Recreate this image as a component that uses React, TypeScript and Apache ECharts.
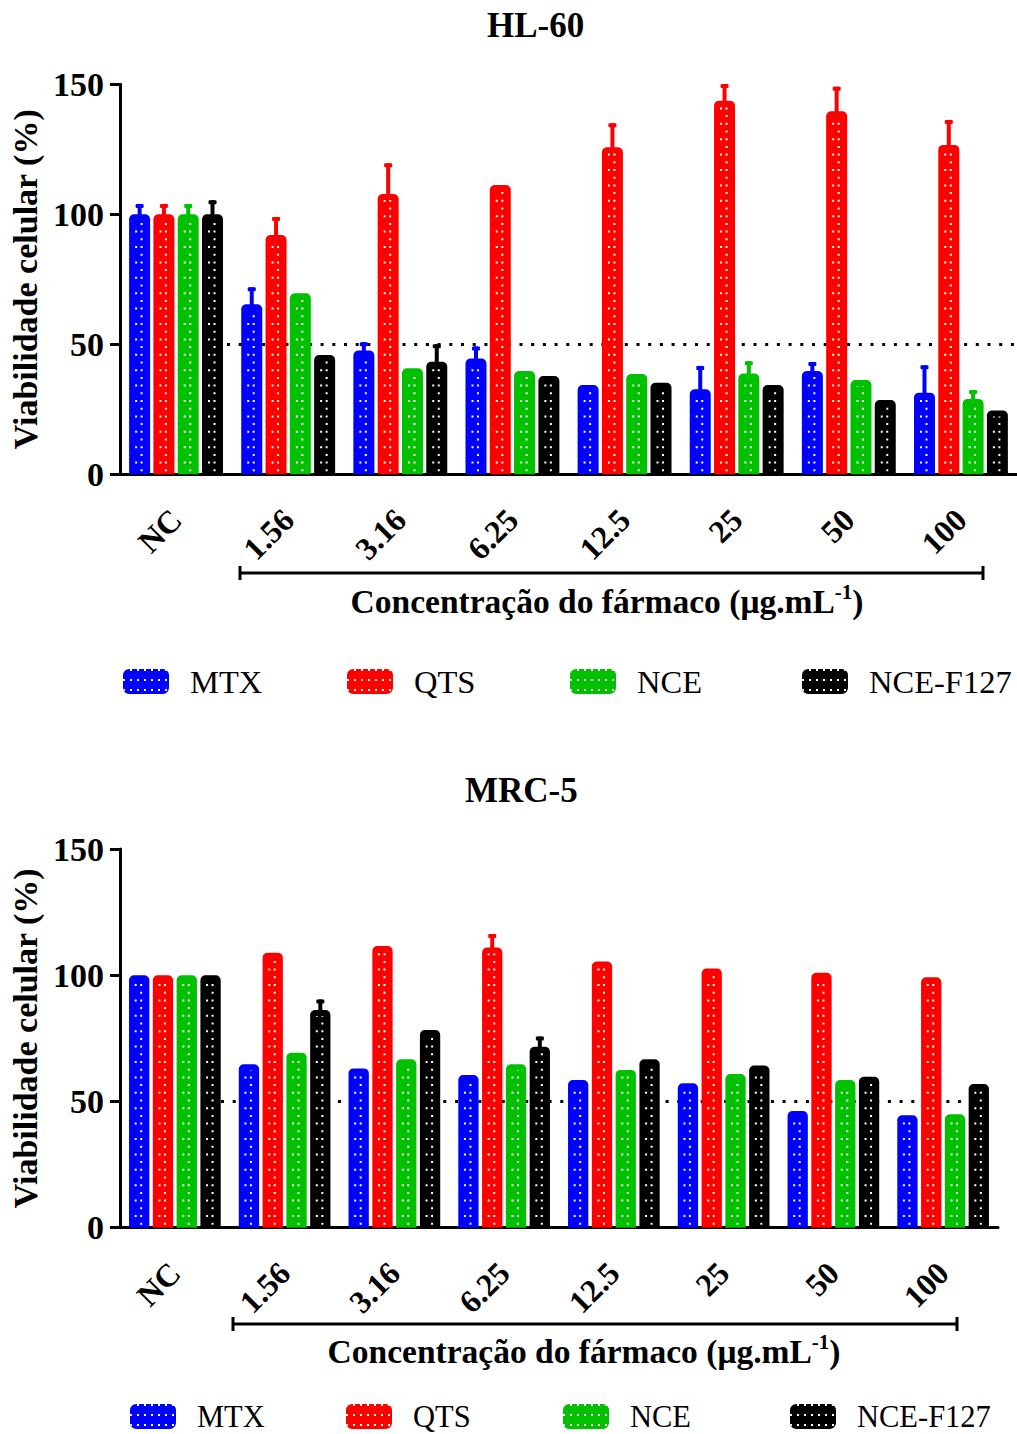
import React, { useEffect, useRef } from 'react';
import * as echarts from 'echarts';

// ---------- data ----------
const categories = ['NC', '1.56', '3.16', '6.25', '12.5', '25', '50', '100'];
const seriesNames = ['MTX', 'QTS', 'NCE', 'NCE-F127'];
const seriesColors = ['#0000ff', '#ff0000', '#00c000', '#000000'];
const yMin = 0;
const yMax = 150;
const yInterval = 50;
const thresholdValue = 50;

// HL-60 (top panel) mean viability (%)
const hlMTX = [100, 65.4, 47.6, 44.5, 34.3, 32.7, 39.7, 31.4];
const hlQTS = [100, 92.0, 107.8, 111.3, 125.8, 143.7, 139.6, 126.7];
const hlNCE = [100, 69.6, 40.8, 39.7, 38.6, 38.8, 36.3, 29.0];
const hlF127 = [100, 45.9, 43.3, 37.8, 35.2, 34.3, 28.6, 24.5];
// HL-60 upper error bar ends (null = not visible)
const hlMTXErr = [104, 71.9, 50.8, 49.2, null, 41.7, 43.2, 41.9];
const hlQTSErr = [104, 99.0, 119.6, null, 135.0, 150.1, 149.1, 136.3];
const hlNCEErr = [104, null, null, null, null, 43.5, null, 32.4];
const hlF127Err = [105.4, null, 50.0, null, null, null, null, null];

// MRC-5 (bottom panel)
const mrcMTX = [100, 64.7, 63.1, 60.5, 58.5, 57.2, 46.2, 44.5];
const mrcQTS = [100, 108.9, 111.6, 111.0, 105.4, 102.7, 101.0, 99.2];
const mrcNCE = [100, 69.3, 66.7, 64.7, 62.5, 60.9, 58.5, 44.9];
const mrcF127 = [100, 86.2, 78.3, 71.7, 66.7, 64.2, 59.8, 56.9];
const mrcMTXErr = [null, null, null, null, null, null, null, null];
const mrcQTSErr = [null, null, null, 116.3, null, null, null, null];
const mrcNCEErr = [null, null, null, null, null, null, null, null];
const mrcF127Err = [null, 90.4, null, 75.7, null, null, null, null];

const FONT = "'Liberation Serif', 'Times New Roman', serif";

type Panel = {
  title: string;
  values: number[][];
  errs: (number | null)[][];
};

const panels: Panel[] = [
  { title: 'HL-60', values: [hlMTX, hlQTS, hlNCE, hlF127], errs: [hlMTXErr, hlQTSErr, hlNCEErr, hlF127Err] },
  { title: 'MRC-5', values: [mrcMTX, mrcQTS, mrcNCE, mrcF127], errs: [mrcMTXErr, mrcQTSErr, mrcNCEErr, mrcF127Err] },
];

// layout (pixels)
const layouts = [
  { left: 120, top: 84.3, width: 903, height: 390, barW: 21, gap: 3.3, titleLeft: 487, titleTop: 8,
    lineStartX: 227, lineEndX: 1017, bracket: [240, 983, 573], nameXY: [607, 601],
    legendLefts: [123, 347, 570, 802], legendTop: 665, legendFont: 32.5 },
  { left: 118, top: 849, width: 880, height: 378.7, barW: 20.3, gap: 3.5, titleLeft: 465, titleTop: 773,
    lineStartX: 221, lineEndX: 993, bracket: [233, 957, 1324], nameXY: [584, 1351],
    legendLefts: [130, 346, 563, 790], legendTop: 1401, legendFont: 30.5 },
];

function buildOption() {
  const grid: any[] = [];
  const xAxis: any[] = [];
  const yAxis: any[] = [];
  const series: any[] = [];
  const title: any[] = [];
  const legend: any[] = [];
  const graphic: any[] = [];

  panels.forEach((panel, g) => {
    const L = layouts[g];
    grid.push({ left: L.left, top: L.top, width: L.width, height: L.height, containLabel: false });
    xAxis.push({
      type: 'category',
      gridIndex: g,
      data: categories,
      axisLine: { lineStyle: { color: '#000', width: 3 } },
      axisTick: { alignWithLabel: true, length: 10, lineStyle: { width: 3, color: '#000' } },
      axisLabel: {
        rotate: 45, margin: 40, interval: 0, color: '#000',
        fontFamily: FONT, fontWeight: 'bold', fontSize: 32,
      },
    });
    yAxis.push({
      type: 'value',
      gridIndex: g,
      min: yMin,
      max: yMax,
      interval: yInterval,
      name: 'Viabilidade celular (%)',
      nameLocation: 'middle',
      nameGap: 78,
      nameRotate: 90,
      nameTextStyle: { fontFamily: FONT, fontWeight: 'bold', fontSize: 34, color: '#000' },
      axisLine: { show: true, lineStyle: { color: '#000', width: 3 } },
      axisTick: { show: true, length: 10, lineStyle: { width: 3, color: '#000' } },
      axisLabel: { margin: 16, color: '#000', fontFamily: FONT, fontWeight: 'bold', fontSize: 34 },
      splitLine: { show: false },
    });
    title.push({
      text: panel.title,
      left: L.titleLeft,
      top: L.titleTop,
      padding: 0,
      textStyle: { fontFamily: FONT, fontWeight: 'bold', fontSize: 35, color: '#000' },
    });

    seriesNames.forEach((name, s) => {
      const vals = panel.values[s];
      const errs = panel.errs[s];
      const bar: any = {
        type: 'bar',
        name,
        xAxisIndex: g,
        yAxisIndex: g,
        data: vals,
        barWidth: L.barW,
        barGap: ((L.gap / L.barW) * 100).toFixed(1) + '%',
        itemStyle: { color: seriesColors[s], borderRadius: [5, 5, 0, 0] },
        z: 2,
        silent: true,
      };
      if (s === 0) {
        bar.markLine = {
          z: 1,
          silent: true,
          symbol: ['none', 'none'],
          label: { show: false },
          lineStyle: { color: '#000', width: 3, type: [3, 8.7] },
          data: [[{ x: L.lineStartX, yAxis: thresholdValue }, { x: L.lineEndX, yAxis: thresholdValue }]],
        };
      }
      series.push(bar);

      const barW = L.barW;
      const gap = L.gap;
      const color = seriesColors[s];
      series.push({
        type: 'custom',
        name,
        xAxisIndex: g,
        yAxisIndex: g,
        z: 3,
        silent: true,
        clip: false,
        data: vals.map((v, i) => [i, v, errs[i] == null ? v : errs[i]]),
        renderItem: (params: any, api: any) => {
          const ci = api.value(0);
          const v = api.value(1);
          const e = api.value(2);
          const base = api.coord([ci, 0]);
          const top = api.coord([ci, v]);
          const et = api.coord([ci, e]);
          const cx = base[0] + (s - 1.5) * (barW + gap);
          const children: any[] = [];
          const y0 = base[1] - 3;
          const y1 = top[1] + 6;
          if (y0 > y1) {
            children.push({
              type: 'line',
              shape: { x1: cx + 2, y1: y0, x2: cx + 2, y2: y1 },
              style: { stroke: '#fff', lineWidth: 2, lineDash: [2, 5.7] },
            });
            children.push({
              type: 'line',
              shape: { x1: cx - 3.5, y1: y0 - 7.7, x2: cx - 3.5, y2: y1 },
              style: { stroke: '#fff', lineWidth: 2, lineDash: [2, 13.4] },
            });
          }
          if (e > v) {
            children.push({
              type: 'rect',
              shape: { x: cx - 2, y: et[1], width: 4, height: top[1] - et[1] + 1 },
              style: { fill: color },
            });
            children.push({
              type: 'rect',
              shape: { x: cx - 4, y: et[1], width: 8, height: 4, r: 1 },
              style: { fill: color },
            });
          }
          return { type: 'group', children };
        },
      });
    });

    seriesNames.forEach((name, s) => {
      legend.push({
        data: [name],
        left: L.legendLefts[s],
        top: L.legendTop,
        padding: 0,
        itemWidth: 46,
        itemHeight: 25,
        icon: 'roundRect',
        selectedMode: false,
        itemStyle: {
          decal: {
            symbol: 'rect', symbolSize: 1, color: '#ffffff',
            dashArrayX: [2, 5], dashArrayY: [2, 8], rotation: 0,
          },
        },
        textStyle: {
          fontFamily: FONT, fontSize: L.legendFont, color: '#000', lineHeight: 20,
          padding: [0, 0, 0, 16],
        },
      });
    });

    const [bx1, bx2, by] = L.bracket;
    graphic.push(
      { type: 'line', silent: true, shape: { x1: bx1, y1: by, x2: bx2, y2: by }, style: { stroke: '#000', lineWidth: 3 } },
      { type: 'line', silent: true, shape: { x1: bx1, y1: by - 7, x2: bx1, y2: by + 7 }, style: { stroke: '#000', lineWidth: 3 } },
      { type: 'line', silent: true, shape: { x1: bx2, y1: by - 7, x2: bx2, y2: by + 7 }, style: { stroke: '#000', lineWidth: 3 } },
      {
        type: 'text',
        silent: true,
        x: L.nameXY[0],
        y: L.nameXY[1],
        style: {
          text: '{a|Concentração do fármaco (μg.mL}{s|-1}{a|)}',
          align: 'center',
          verticalAlign: 'middle',
          fill: '#000',
          rich: {
            a: { fontFamily: FONT, fontWeight: 'bold', fontSize: 33.5, fill: '#000' },
            s: { fontFamily: FONT, fontWeight: 'bold', fontSize: 21, fill: '#000', padding: [0, 0, 18, 0] },
          },
        },
      }
    );
  });

  return {
    animation: false,
    backgroundColor: '#ffffff',
    title,
    legend,
    grid,
    xAxis,
    yAxis,
    series,
    graphic,
  };
}

export default function App() {
  const ref = useRef<HTMLDivElement>(null);
  useEffect(() => {
    if (!ref.current) return;
    const chart = echarts.init(ref.current, undefined, { renderer: 'svg' });
    chart.setOption(buildOption() as any);
    return () => chart.dispose();
  }, []);
  return (
    <div
      ref={ref}
      style={{ position: 'absolute', left: 0, top: 0, width: 1017, height: 1434, background: '#fff' }}
    />
  );
}
